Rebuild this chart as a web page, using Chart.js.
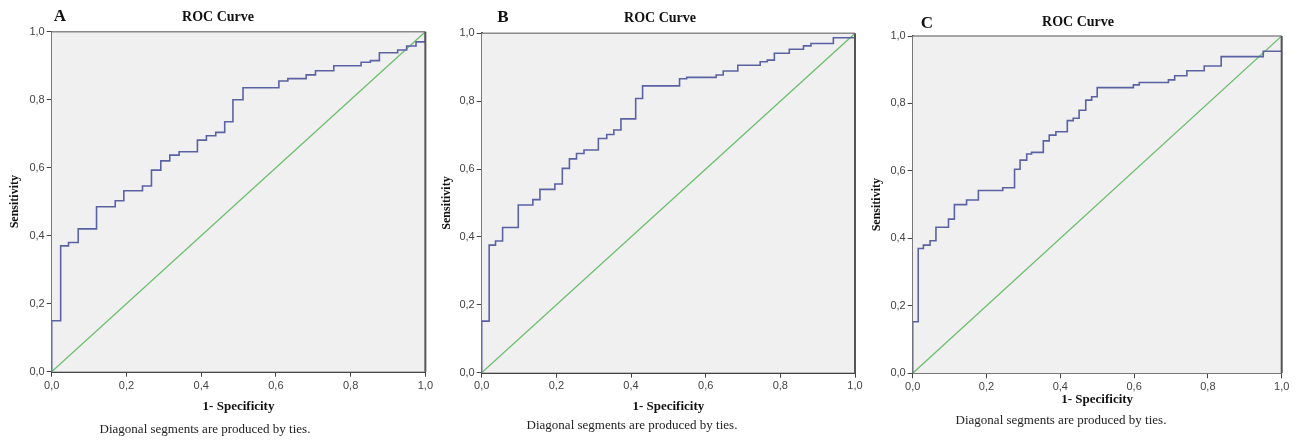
<!DOCTYPE html>
<html>
<head>
<meta charset="utf-8">
<script src="https://cdn.jsdelivr.net/npm/chart.js@4.4.1/dist/chart.umd.min.js"></script>
<style>
  html, body { margin: 0; padding: 0; background: #fff; }
  body { width: 1296px; height: 440px; position: relative; overflow: hidden; }
  .panel { position: absolute; top: 0; height: 440px; }
</style>
</head>
<body>
<div class="panel" style="left:0;width:436px"><canvas id="rocA"></canvas></div>
<div class="panel" style="left:440px;width:440px"><canvas id="rocB"></canvas></div>
<div class="panel" style="left:860px;width:436px"><canvas id="rocC"></canvas></div>
<script>
// ROC step corners (1 - specificity, sensitivity)
const fprA = [0, 0, 0.024, 0.045, 0.071, 0.12, 0.17, 0.193, 0.243, 0.267, 0.292, 0.316, 0.341, 0.39, 0.414, 0.439, 0.463, 0.485, 0.512, 0.608, 0.632, 0.681, 0.706, 0.755, 0.828, 0.853, 0.877, 0.926, 0.95, 0.975, 1.0, 1.0];
const tprA = [0, 0.15, 0.37, 0.38, 0.42, 0.485, 0.503, 0.532, 0.546, 0.593, 0.62, 0.637, 0.647, 0.681, 0.694, 0.704, 0.735, 0.80, 0.835, 0.855, 0.862, 0.873, 0.885, 0.90, 0.91, 0.915, 0.938, 0.946, 0.958, 0.97, 0.97, 1.0];

const fprB = [0, 0, 0.02, 0.037, 0.056, 0.098, 0.137, 0.156, 0.196, 0.216, 0.235, 0.254, 0.274, 0.3125, 0.335, 0.354, 0.373, 0.4125, 0.431, 0.53, 0.549, 0.628, 0.647, 0.686, 0.746, 0.765, 0.784, 0.824, 0.862, 0.882, 0.942, 1.0];
const tprB = [0, 0.152, 0.376, 0.388, 0.428, 0.494, 0.51, 0.54, 0.556, 0.602, 0.63, 0.646, 0.656, 0.69, 0.702, 0.715, 0.748, 0.808, 0.845, 0.866, 0.87, 0.877, 0.889, 0.906, 0.916, 0.921, 0.941, 0.953, 0.963, 0.97, 0.987, 1.0];

const fprC = [0, 0, 0.015, 0.029, 0.047, 0.063, 0.097, 0.113, 0.146, 0.178, 0.244, 0.276, 0.291, 0.309, 0.322, 0.354, 0.37, 0.388, 0.419, 0.435, 0.451, 0.469, 0.485, 0.5, 0.598, 0.614, 0.693, 0.71, 0.743, 0.79, 0.836, 0.95, 1.0, 1.0];
const tprC = [0, 0.153, 0.37, 0.38, 0.393, 0.433, 0.457, 0.50, 0.514, 0.542, 0.55, 0.605, 0.632, 0.65, 0.655, 0.689, 0.706, 0.716, 0.749, 0.756, 0.78, 0.81, 0.82, 0.847, 0.855, 0.862, 0.87, 0.882, 0.897, 0.911, 0.939, 0.955, 0.97, 1.0];

// reference line
const refX = [0, 1];
const refY = [0, 1];

const tickValues = [0, 0.2, 0.4, 0.6, 0.8, 1.0];
const titleText = 'ROC Curve';
const xTitle = '1- Specificity';
const yTitle = 'Sensitivity';
const footText = 'Diagonal segments are produced by ties.';

const SERIF = "'Liberation Serif', 'DejaVu Serif', serif";
const SANS = "'Liberation Sans', Arial, sans-serif";

const toPoints = (xs, ys) => xs.map((x, i) => ({ x: x, y: ys[i] }));
const fmt = v => v.toFixed(1).replace('.', ',');

// plot background, top/right frame, title, panel letter and footnote
const panelDecor = {
  id: 'panelDecor',
  beforeDatasetsDraw(chart) {
    const { ctx, chartArea: a } = chart;
    ctx.save();
    ctx.fillStyle = '#f0f0f0';
    ctx.fillRect(a.left, a.top, a.right - a.left, a.bottom - a.top);
    ctx.restore();
  },
  afterDraw(chart, args, opts) {
    const { ctx, chartArea: a } = chart;
    ctx.save();
    ctx.strokeStyle = '#8a8a8a';
    ctx.lineWidth = 1.5;
    ctx.beginPath();
    ctx.moveTo(a.left, a.top);
    ctx.lineTo(a.right, a.top);
    ctx.stroke();
    ctx.strokeStyle = '#555';
    ctx.lineWidth = 2;
    ctx.beginPath();
    ctx.moveTo(a.right, a.top);
    ctx.lineTo(a.right, a.bottom);
    ctx.stroke();

    ctx.textAlign = 'center';
    ctx.textBaseline = 'middle';
    ctx.fillStyle = '#111';
    ctx.font = 'bold 14px ' + SERIF;
    ctx.fillText(titleText, opts.titleX, opts.titleY);
    ctx.font = 'bold 17px ' + SERIF;
    ctx.fillText(opts.letter, opts.letterX, opts.letterY);
    ctx.fillStyle = '#222';
    ctx.font = '13px ' + SERIF;
    ctx.fillText(footText, opts.footX, opts.footY);
    ctx.restore();
  }
};

function makeRoc(canvasId, fpr, tpr, cfg) {
  const ctx = document.getElementById(canvasId).getContext('2d');
  return new Chart(ctx, {
    type: 'scatter',
    data: {
      datasets: [
        {
          label: 'ROC',
          data: toPoints(fpr, tpr),
          showLine: true,
          stepped: 'before',
          borderColor: '#5a62a4',
          borderWidth: 1.6,
          pointRadius: 0,
          fill: false
        },
        {
          label: 'Reference',
          data: toPoints(refX, refY),
          showLine: true,
          borderColor: '#6abf6a',
          borderWidth: 1.3,
          pointRadius: 0,
          fill: false
        }
      ]
    },
    options: {
      responsive: true,
      maintainAspectRatio: false,
      animation: false,
      events: [],
      layout: { padding: { left: cfg.padLeft, right: cfg.padRight, top: cfg.padTop, bottom: cfg.padBottom } },
      plugins: {
        legend: { display: false },
        tooltip: { enabled: false },
        title: { display: false },
        panelDecor: cfg.decor
      },
      scales: {
        x: {
          type: 'linear',
          min: 0,
          max: 1,
          afterBuildTicks: s => { s.ticks = tickValues.map(v => ({ value: v })); },
          afterFit: s => { s.height = cfg.xHeight; },
          ticks: {
            callback: fmt,
            color: '#444',
            font: { family: SANS, size: 11 },
            padding: cfg.xTickPad,
            maxRotation: 0,
            autoSkip: false
          },
          grid: { drawOnChartArea: false, drawTicks: true, tickLength: 5, color: '#444' },
          border: { display: true, color: '#444', width: 2 },
          title: {
            display: true,
            text: xTitle,
            color: '#111',
            font: { family: SERIF, size: 13, weight: 'bold' },
            padding: { top: 0, bottom: 0 }
          }
        },
        y: {
          type: 'linear',
          min: 0,
          max: 1,
          afterBuildTicks: s => { s.ticks = tickValues.map(v => ({ value: v })); },
          afterFit: s => { s.width = cfg.yWidth; },
          ticks: {
            callback: fmt,
            color: '#444',
            font: { family: SANS, size: 11 },
            padding: 2,
            autoSkip: false
          },
          grid: { drawOnChartArea: false, drawTicks: true, tickLength: 5, color: '#444' },
          border: { display: true, color: '#444', width: 2 },
          title: {
            display: true,
            text: yTitle,
            color: '#111',
            font: { family: SERIF, size: 12, weight: 'bold' },
            padding: { top: cfg.yTitlePad, bottom: 0 }
          }
        }
      }
    },
    plugins: [panelDecor]
  });
}

makeRoc('rocA', fprA, tprA, {
  padLeft: 0, padRight: 10, padTop: 31.7, padBottom: 25.2,
  xHeight: 43.1, xTickPad: 3, yWidth: 51.7, yTitlePad: 8,
  decor: { titleX: 218, titleY: 17, letter: 'A', letterX: 60, letterY: 17, footX: 205, footY: 430 }
});
makeRoc('rocB', fprB, tprB, {
  padLeft: 0, padRight: 25, padTop: 33.3, padBottom: 25.2,
  xHeight: 42.1, xTickPad: 2, yWidth: 41.7, yTitlePad: 0,
  decor: { titleX: 220, titleY: 18, letter: 'B', letterX: 63, letterY: 18, footX: 192, footY: 426 }
});
makeRoc('rocC', fprC, tprC, {
  padLeft: 0, padRight: 14.3, padTop: 36, padBottom: 32.2,
  xHeight: 34.5, xTickPad: 2, yWidth: 52.7, yTitlePad: 9.8,
  decor: { titleX: 218, titleY: 22, letter: 'C', letterX: 67, letterY: 24, footX: 201, footY: 421 }
});
</script>
</body>
</html>
